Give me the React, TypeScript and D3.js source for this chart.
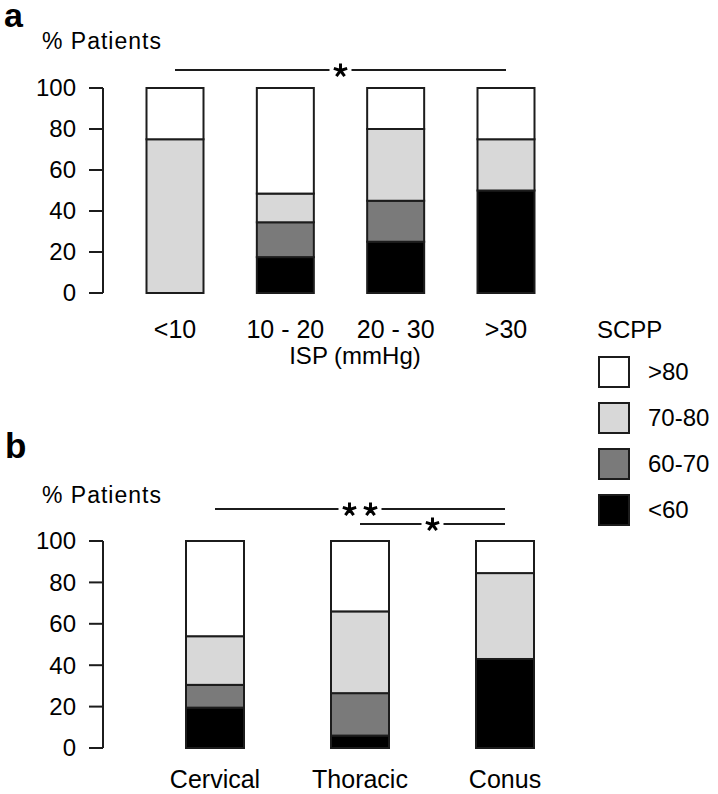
import React from "react";
import * as d3 from "d3";

// ---------- Data ----------
const ispCategories = ["<10", "10 - 20", "20 - 30", ">30"];
const ispLt60 = [0, 17.5, 25, 50];
const isp60to70 = [0, 17, 20, 0];
const isp70to80 = [75, 14, 35, 25];
const ispGt80 = [25, 51.5, 20, 25];

const levelCategories = ["Cervical", "Thoracic", "Conus"];
const levelLt60 = [19.5, 6, 43];
const level60to70 = [11, 20.5, 0];
const level70to80 = [23.5, 39.5, 41.5];
const levelGt80 = [46, 34, 15.5];

const seriesKeys = ["<60", "60-70", "70-80", ">80"];
const legendOrder = [">80", "70-80", "60-70", "<60"];
const yTicks = [0, 20, 40, 60, 80, 100];

// significance annotations: [fromIndex, toIndex, number of stars]
const sigA: [number, number, number][] = [[0, 3, 1]];
const sigB: [number, number, number][] = [
  [0, 2, 2],
  [1, 2, 1],
];

// ---------- Styles ----------
const FONT = "'Liberation Sans', Arial, Helvetica, sans-serif";
const colors: Record<string, string> = {
  "<60": "#000000",
  "60-70": "#7a7a7a",
  "70-80": "#d8d8d8",
  ">80": "#ffffff",
};
const STROKE = "#1c1c1c";

function buildRows(cats: string[], a: number[], b: number[], c: number[], d: number[]) {
  return cats.map((cat, i) => ({
    cat,
    "<60": a[i],
    "60-70": b[i],
    "70-80": c[i],
    ">80": d[i],
  }));
}

const armAngles = d3.range(5).map((i) => -Math.PI / 2 + (i * 2 * Math.PI) / 5);

function Star({ x, y }: { x: number; y: number }) {
  const r = 7;
  const path = d3.path();
  armAngles.forEach((a) => {
    path.moveTo(x, y);
    path.lineTo(x + r * Math.cos(a), y + r * Math.sin(a));
  });
  return <path d={path.toString()} stroke="#000" strokeWidth={3} fill="none" />;
}

type PanelProps = {
  cats: string[];
  rows: any[];
  xRange: [number, number];
  yRange: [number, number];
  barW: number;
  labelY: number;
  sig: [number, number, number][];
  sigY: number[];
};

function Panel({ cats, rows, xRange, yRange, barW, labelY, sig, sigY }: PanelProps) {
  const x = d3.scalePoint<string>().domain(cats).range(xRange);
  const y = d3.scaleLinear().domain([0, 100]).range(yRange);
  const stacked = d3.stack<any>().keys(seriesKeys)(rows);
  const axisX = 103;
  return (
    <g>
      {/* axis */}
      <line x1={axisX} x2={axisX} y1={y(0)} y2={y(100)} stroke={STROKE} strokeWidth={2} />
      {yTicks.map((t) => (
        <g key={t}>
          <line x1={axisX - 14} x2={axisX} y1={y(t)} y2={y(t)} stroke={STROKE} strokeWidth={2} />
          <text
            x={76}
            y={y(t)}
            dy="0.35em"
            textAnchor="end"
            fontFamily={FONT}
            fontSize={24}
            fill="#000"
          >
            {t}
          </text>
        </g>
      ))}
      {/* bars */}
      {stacked.map((s) =>
        s.map((d, i) => {
          const h = y(d[0]) - y(d[1]);
          if (h <= 0) return null;
          const cx = x(cats[i]) as number;
          return (
            <rect
              key={s.key + i}
              x={cx - barW / 2}
              y={y(d[1])}
              width={barW}
              height={h}
              fill={colors[s.key]}
              stroke={STROKE}
              strokeWidth={2}
            />
          );
        })
      )}
      {/* category labels */}
      {cats.map((c) => (
        <text
          key={c}
          x={x(c) as number}
          y={labelY}
          textAnchor="middle"
          fontFamily={FONT}
          fontSize={25}
          fill="#000"
        >
          {c}
        </text>
      ))}
      {/* significance */}
      {sig.map(([a, b, n], k) => {
        const x1 = x(cats[a]) as number;
        const x2 = x(cats[b]) as number;
        const mid = (x1 + x2) / 2;
        const spacing = 21;
        const half = n * 10.5 + 0.5;
        const yy = sigY[k];
        const starXs = d3.range(n).map((j) => mid + (j - (n - 1) / 2) * spacing);
        return (
          <g key={k}>
            <line x1={x1} x2={mid - half} y1={yy} y2={yy} stroke={STROKE} strokeWidth={2} />
            <line x1={mid + half} x2={x2} y1={yy} y2={yy} stroke={STROKE} strokeWidth={2} />
            {starXs.map((sx, j) => (
              <Star key={j} x={sx} y={yy + 0.5} />
            ))}
          </g>
        );
      })}
    </g>
  );
}

export default function App() {
  const rowsA = buildRows(ispCategories, ispLt60, isp60to70, isp70to80, ispGt80);
  const rowsB = buildRows(levelCategories, levelLt60, level60to70, level70to80, levelGt80);
  const legendY = d3.scalePoint<string>().domain(legendOrder).range([372, 510]);
  return (
    <svg
      width={718}
      height={794}
      style={{ position: "absolute", left: 0, top: 0, background: "#fff" }}
    >
      <rect width={718} height={794} fill="#fff" />
      {/* panel a */}
      <text x={4} y={27} fontFamily={FONT} fontSize={34} fontWeight="bold">a</text>
      <text x={42} y={49} fontFamily={FONT} fontSize={23} letterSpacing={1}>% Patients</text>
      <Panel
        cats={ispCategories}
        rows={rowsA}
        xRange={[175, 506]}
        yRange={[293, 88]}
        barW={57}
        labelY={338}
        sig={sigA}
        sigY={[70]}
      />
      <text x={355} y={364} textAnchor="middle" fontFamily={FONT} fontSize={24}>ISP (mmHg)</text>

      {/* panel b */}
      <text x={5} y={458} fontFamily={FONT} fontSize={35} fontWeight="bold">b</text>
      <text x={42} y={503} fontFamily={FONT} fontSize={23} letterSpacing={1}>% Patients</text>
      <Panel
        cats={levelCategories}
        rows={rowsB}
        xRange={[215, 505]}
        yRange={[748, 541]}
        barW={58}
        labelY={788}
        sig={sigB}
        sigY={[509, 524]}
      />

      {/* legend */}
      <text x={597} y={338} fontFamily={FONT} fontSize={24}>SCPP</text>
      {legendOrder.map((k) => (
        <g key={k}>
          <rect
            x={599}
            y={(legendY(k) as number) - 15}
            width={30}
            height={30}
            fill={colors[k]}
            stroke={STROKE}
            strokeWidth={2}
          />
          <text
            x={648}
            y={legendY(k) as number}
            dy="0.35em"
            fontFamily={FONT}
            fontSize={24}
          >
            {k}
          </text>
        </g>
      ))}
    </svg>
  );
}
